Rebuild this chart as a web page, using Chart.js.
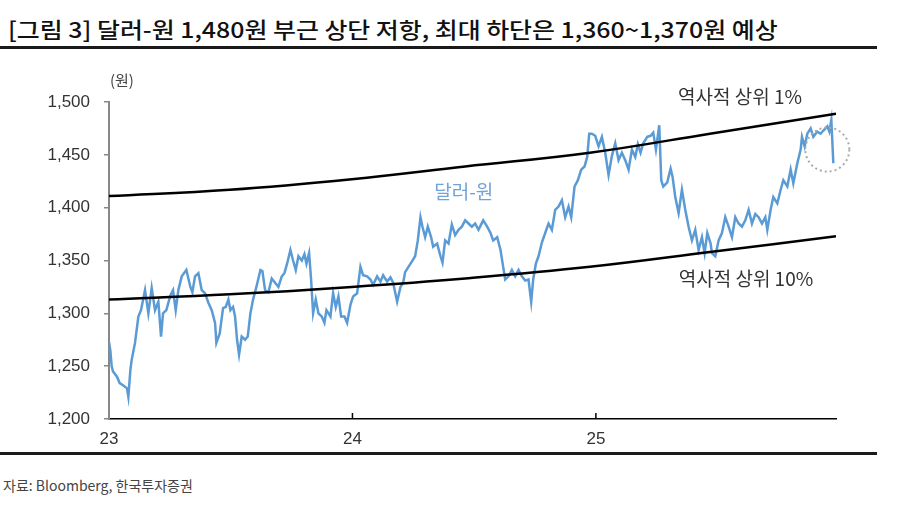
<!DOCTYPE html>
<html>
<head>
<meta charset="utf-8">
<script src="https://cdn.jsdelivr.net/npm/chart.js@4.4.1/dist/chart.umd.min.js"></script>
<style>
  body { margin: 0; width: 897px; height: 523px; background: #fff; position: relative; overflow: hidden; font-family: "Noto Sans CJK KR", sans-serif; }
  #title { position: absolute; left: 8px; top: 12px; font-size: 22px; font-weight: 500; color: #111; white-space: nowrap; transform-origin: left center; }
  .rule { position: absolute; left: 0; width: 877px; height: 3px; background: #1a1a1a; }
  #source { position: absolute; left: 3px; top: 475px; font-size: 14px; color: #444; white-space: nowrap; }
  #wrap { position: absolute; left: 0; top: 60px; width: 897px; height: 392px; }
</style>
</head>
<body>
<div id="title">[그림 3] 달러-원 1,480원 부근 상단 저항, 최대 하단은 1,360~1,370원 예상</div>
<div class="rule" style="top:46px"></div>
<div id="wrap"><canvas id="fxChart"></canvas></div>
<div class="rule" style="top:452px"></div>
<div id="source">자료: Bloomberg, 한국투자증권</div>
<script>
// x = days since 2023-01-01
const xTickDays = [0, 365, 730];
const xTickLabels = ['23', '24', '25'];
const yTickValues = [1200, 1250, 1300, 1350, 1400, 1450, 1500];

// 달러-원
const fxDays = [
  0, 2, 4, 6, 12, 16, 21, 27, 29, 32, 34, 39, 44, 48, 54, 59, 64, 69, 74, 78, 81, 86, 92, 96, 100, 104, 109, 116, 122, 125, 129, 134, 139, 144, 149, 154, 159, 161, 166, 171, 175, 179,
  182, 186, 189, 192, 195, 199, 204, 208, 212, 216, 221, 227, 230, 234, 239, 244, 249, 254, 259, 263, 267, 272, 276, 280, 284, 289, 293, 296, 300, 303, 306, 310, 314, 319, 323, 326, 332, 336, 340, 344, 348, 353, 357, 362,
  366, 372, 377, 381, 387, 392, 396, 402, 407, 411, 417, 422, 426, 432, 437, 441, 444, 449, 454, 459, 463, 467, 470, 474, 478, 483, 486, 492, 497, 500, 504, 509, 514, 519, 524, 529, 534, 539,
  544, 549, 554, 561, 567, 572, 576, 582, 587, 591, 594, 599, 604, 609, 614, 619, 624, 629, 633, 636, 640, 644, 649, 654, 659, 664, 669, 674, 679, 684, 689, 693, 698, 703, 708, 713, 717, 720,
  724, 729, 734, 739, 744, 749, 754, 759, 764, 769, 774, 779, 784, 789, 793, 797, 801, 807, 812, 816, 820, 825, 828, 831, 837, 842, 845, 849, 854, 859, 864, 869, 874, 879, 884, 889, 893, 897, 902,
  904, 909, 914, 919, 924, 929, 934, 939, 944, 949, 954, 959, 964, 969, 974, 979, 984, 987, 992, 996, 1002, 1007, 1011, 1017, 1022, 1026, 1032, 1037, 1039, 1043, 1047, 1052, 1056, 1062, 1067, 1071, 1077, 1080, 1083, 1086
];
const fxValues = [
  1273, 1265, 1250, 1245, 1240, 1234, 1232, 1229, 1221, 1246, 1256, 1272, 1297, 1303, 1322, 1300, 1324, 1303, 1311, 1278, 1300, 1303, 1317, 1322, 1303, 1322, 1335, 1341, 1325, 1320, 1335, 1338, 1322, 1319, 1310, 1303, 1291, 1272, 1281, 1305, 1306, 1313,
  1303, 1306, 1297, 1275, 1261, 1278, 1275, 1278, 1300, 1313, 1325, 1341, 1340, 1322, 1320, 1333, 1329, 1325, 1335, 1338, 1347, 1360, 1350, 1341, 1354, 1350, 1356, 1347, 1357, 1332, 1300, 1313, 1300, 1297, 1291, 1303, 1297, 1319, 1306, 1316, 1297, 1297, 1291, 1308,
  1316, 1319, 1344, 1336, 1335, 1332, 1327, 1335, 1330, 1336, 1330, 1334, 1329, 1311, 1325, 1329, 1339, 1344, 1349, 1354, 1369, 1391, 1382, 1372, 1382, 1372, 1363, 1366, 1354, 1348, 1369, 1366, 1384, 1374, 1379, 1382, 1388, 1385,
  1382, 1385, 1379, 1388, 1382, 1376, 1369, 1372, 1360, 1344, 1332, 1335, 1341, 1335, 1341, 1335, 1331, 1332, 1311, 1332, 1347, 1354, 1367, 1376, 1385, 1379, 1398, 1401, 1407, 1391, 1401, 1391, 1420, 1426, 1436, 1439, 1448, 1470,
  1470, 1468, 1458, 1467, 1452, 1431, 1449, 1461, 1445, 1452, 1445, 1436, 1455, 1448, 1460, 1452, 1461, 1467, 1468, 1471, 1455, 1478, 1426, 1420, 1424, 1437, 1429, 1410, 1395, 1417, 1398, 1382, 1369, 1379, 1360, 1372, 1357, 1376, 1366,
  1357, 1354, 1369, 1376, 1391, 1382, 1372, 1391, 1385, 1382, 1388, 1398, 1385, 1394, 1391, 1385, 1391, 1379, 1398, 1410, 1404, 1417, 1426, 1420, 1436, 1423, 1442, 1455, 1467, 1458, 1470, 1475, 1467, 1472, 1470, 1473, 1477, 1472, 1483, 1442
];

// 역사적 상위 1% / 10% 밴드
const bandDays = [0, 181, 364, 534, 721, 901, 1090];
const top1Values = [1411, 1417, 1427, 1439, 1452, 1470, 1489];
const top10Values = [1313, 1318, 1325, 1333, 1344, 1358, 1373];

const toPoints = (xs, ys) => xs.map((x, i) => ({ x: x, y: ys[i] }));

// fit the title to the reference width
const titleEl = document.getElementById('title');
titleEl.style.transform = 'scaleX(' + (770 / titleEl.offsetWidth) + ')';

const labelPlugin = {
  id: 'labels',
  afterDatasetsDraw(chart) {
    const { ctx, chartArea, scales: { x, y } } = chart;
    ctx.save();
    // inward ticks on the x axis
    ctx.strokeStyle = '#000';
    ctx.lineWidth = 1.5;
    xTickDays.slice(1).forEach(d => {
      const px = x.getPixelForValue(d);
      ctx.beginPath();
      ctx.moveTo(px, chartArea.bottom);
      ctx.lineTo(px, chartArea.bottom - 6);
      ctx.stroke();
    });
    // unit
    ctx.fillStyle = '#444';
    ctx.font = '15px "Noto Sans CJK KR"';
    ctx.textAlign = 'left';
    ctx.textBaseline = 'middle';
    ctx.fillText('(원)', chartArea.left + 1, chartArea.top - 22);
    // band / series labels
    ctx.textAlign = 'center';
    ctx.font = '19px "Noto Sans CJK KR"';
    ctx.fillStyle = '#333';
    ctx.fillText('역사적 상위 1%', x.getPixelForValue(946), y.getPixelForValue(1505));
    ctx.fillText('역사적 상위 10%', x.getPixelForValue(955), y.getPixelForValue(1333));
    ctx.fillStyle = '#6fa3d9';
    ctx.fillText('달러-원', x.getPixelForValue(532), y.getPixelForValue(1415));
    // dotted circle around the latest drop
    ctx.strokeStyle = '#aaa';
    ctx.lineWidth = 2;
    ctx.setLineDash([2, 3]);
    ctx.beginPath();
    ctx.arc(x.getPixelForValue(1077), y.getPixelForValue(1455), 22, 0, Math.PI * 2);
    ctx.stroke();
    ctx.restore();
  }
};

new Chart(document.getElementById('fxChart'), {
  type: 'line',
  data: {
    datasets: [{
      label: '역사적 상위 1%',
      data: toPoints(bandDays, top1Values),
      borderColor: '#000',
      borderWidth: 2.5,
      pointRadius: 0,
      tension: 0.4
    }, {
      label: '역사적 상위 10%',
      data: toPoints(bandDays, top10Values),
      borderColor: '#000',
      borderWidth: 2.5,
      pointRadius: 0,
      tension: 0.4
    }, {
      label: '달러-원',
      data: toPoints(fxDays, fxValues),
      borderColor: '#5b9bd5',
      borderWidth: 2.5,
      pointRadius: 0,
      tension: 0
    }]
  },
  options: {
    responsive: true,
    maintainAspectRatio: false,
    animation: false,
    layout: { padding: { top: 42, right: 61, left: 0, bottom: 0 } },
    plugins: {
      legend: { display: false },
      tooltip: { enabled: false }
    },
    scales: {
      x: {
        type: 'linear',
        min: 0,
        max: 1090,
        afterFit: s => { s.height = 33; },
        afterBuildTicks: s => { s.ticks = xTickDays.map(v => ({ value: v })); },
        grid: { display: false },
        border: { display: true, color: '#000', width: 1.5 },
        ticks: {
          autoSkip: false,
          maxRotation: 0,
          padding: 2,
          color: '#333',
          font: { family: 'Liberation Sans', size: 17 },
          callback: v => xTickLabels[xTickDays.indexOf(v)]
        }
      },
      y: {
        min: 1200,
        max: 1500,
        afterFit: s => { s.width = 109; },
        afterBuildTicks: s => { s.ticks = yTickValues.map(v => ({ value: v })); },
        grid: { drawOnChartArea: false, tickLength: 5, color: '#888', lineWidth: 1.5 },
        border: { display: true, color: '#888', width: 2 },
        ticks: {
          padding: 14,
          color: '#333',
          font: { family: 'Liberation Sans', size: 17 },
          callback: v => v.toLocaleString('en-US')
        }
      }
    }
  },
  plugins: [labelPlugin]
});
</script>
</body>
</html>
